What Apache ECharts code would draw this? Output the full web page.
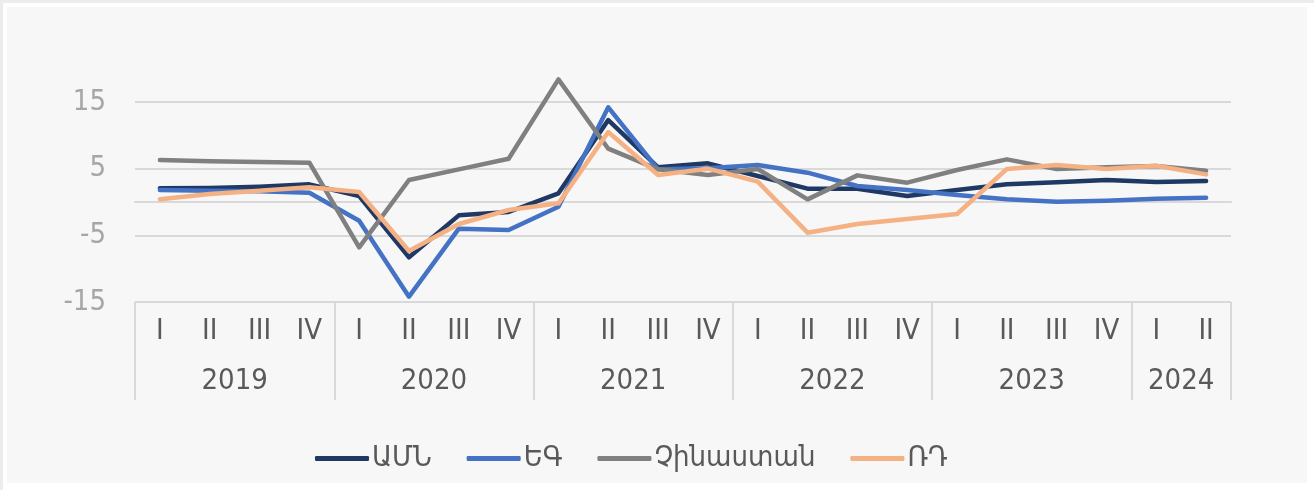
<!DOCTYPE html>
<html>
<head>
<meta charset="utf-8">
<script src="https://cdn.jsdelivr.net/npm/echarts@6/dist/echarts.min.js"></script>
<style>
  html, body { margin: 0; padding: 0; background: #ffffff; }
  #main {
    width: 1314px; height: 490px;
    background: #f7f7f7;
    box-shadow: inset 3px 3px 0 0 #ececec, inset 0 0 0 7px #ffffff;
  }
</style>
</head>
<body>
<div id="main"></div>
<script>
// quarters on the x axis, grouped by year
var quarters = ['I', 'II', 'III', 'IV', 'I', 'II', 'III', 'IV', 'I', 'II', 'III', 'IV',
                'I', 'II', 'III', 'IV', 'I', 'II', 'III', 'IV', 'I', 'II'];
var years = ['2019', '2020', '2021', '2022', '2023', '2024'];
var quartersPerYear = [4, 4, 4, 4, 4, 2];

// series values
var usa    = [2.05, 2.1, 2.3, 2.65, 0.9, -8.3, -2.0, -1.5, 1.3, 12.3, 5.2, 5.8, 3.9, 2.0, 2.0, 0.9, 1.8, 2.65, 2.95, 3.3, 3.0, 3.15];
var eu     = [1.8, 1.7, 1.6, 1.4, -2.8, -14.2, -4.0, -4.2, -0.7, 14.2, 4.9, 5.05, 5.55, 4.4, 2.4, 1.8, 1.05, 0.4, 0.05, 0.2, 0.5, 0.65];
var china  = [6.3, 6.1, 6.0, 5.9, -6.8, 3.3, 4.9, 6.5, 18.4, 8.0, 4.9, 4.05, 4.95, 0.4, 4.0, 2.9, 4.8, 6.4, 4.95, 5.2, 5.4, 4.7];
var russia = [0.4, 1.2, 1.7, 2.2, 1.5, -7.35, -3.3, -1.2, -0.2, 10.5, 4.05, 5.0, 3.05, -4.6, -3.3, -2.55, -1.8, 4.95, 5.55, 4.95, 5.45, 4.15];

var seriesNames = ['ԱՄՆ', 'ԵԳ', 'Չինաստան', 'ՌԴ'];
var seriesColors = ['#1f3864', '#4472c4', '#808080', '#f4b183'];

// y axis: labels shown and grid lines shown
var yLabels = [-15, -5, 5, 15];
var yGridLines = [-15, -5, 0, 5, 15];

var FONT = '"Liberation Sans Narrow", "DejaVu Sans Condensed", "Noto Sans", sans-serif';

// year boundaries and centres on a 0..22 scale
var yearEdges = [0], yearMids = [];
quartersPerYear.forEach(function (n, i) {
  var start = yearEdges[i];
  yearEdges.push(start + n);
  yearMids.push(start + n / 2);
});

var yMin = -15, yMax = 20, yStep = 5;
var gridColors = [];
for (var v = yMin; v <= yMax; v += yStep) {
  gridColors.push(yGridLines.indexOf(v) >= 0 ? '#d9d9d9' : 'rgba(0,0,0,0)');
}

var chart = echarts.init(document.getElementById('main'));

var allData = [usa, eu, china, russia];

chart.setOption({
  animation: false,
  backgroundColor: 'transparent',
  grid: { left: 135, right: 83, top: 68.7, bottom: 188 },
  legend: {
    left: 310,
    top: 439,
    itemWidth: 54,
    itemHeight: 5,
    itemGap: 35,
    icon: 'roundRect',
    textStyle: { fontFamily: FONT, fontSize: 29, color: '#595959', padding: [0, 0, 0, -2] },
    data: seriesNames
  },
  xAxis: [
    {
      type: 'category',
      data: quarters,
      boundaryGap: true,
      axisLine: { lineStyle: { color: '#d9d9d9', width: 2 } },
      axisTick: { show: false },
      axisLabel: { fontFamily: FONT, fontSize: 29, color: '#595959', margin: 15, interval: 0 }
    },
    {
      type: 'value',
      min: 0,
      max: quarters.length,
      position: 'bottom',
      axisLine: { show: false },
      splitLine: { show: false },
      axisTick: {
        show: true,
        customValues: yearEdges,
        length: 98,
        lineStyle: { color: '#d9d9d9', width: 2 }
      },
      axisLabel: {
        customValues: yearMids,
        fontFamily: FONT,
        fontSize: 29,
        color: '#595959',
        margin: 65,
        formatter: function (val) {
          var i = yearMids.indexOf(val);
          return i >= 0 ? years[i] : '';
        }
      }
    }
  ],
  yAxis: {
    type: 'value',
    min: yMin,
    max: yMax,
    interval: yStep,
    axisLine: { show: false },
    axisTick: { show: false },
    splitLine: { show: true, lineStyle: { color: gridColors, width: 2 } },
    axisLabel: {
      fontFamily: FONT,
      fontSize: 29,
      color: '#a6a6a6',
      margin: 29,
      formatter: function (val) {
        return yLabels.indexOf(val) >= 0 ? String(val) : '';
      }
    }
  },
  series: seriesNames.map(function (name, i) {
    return {
      name: name,
      type: 'line',
      xAxisIndex: 0,
      data: allData[i],
      symbol: 'none',
      color: seriesColors[i],
      lineStyle: { width: 4.5, color: seriesColors[i], cap: 'round', join: 'round' }
    };
  })
});
</script>
</body>
</html>
